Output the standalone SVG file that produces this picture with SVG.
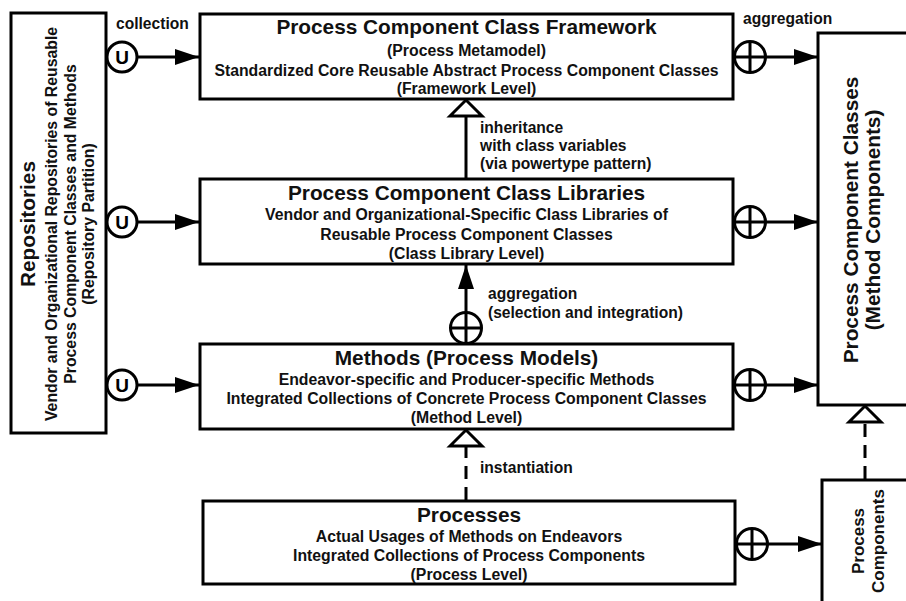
<svg xmlns="http://www.w3.org/2000/svg" width="906" height="601" viewBox="0 0 906 601">
  <style>
    .box { fill: #fff; stroke: #000; stroke-width: 3; }
    .t { font-family: "Liberation Sans", Arial, sans-serif; font-weight: bold; fill: #111; }
    .title { font-size: 20.8px; text-anchor: middle; }
    .sub { font-size: 15.8px; text-anchor: middle; }
    .lbl { font-size: 15.6px; }
    .edge { stroke: #000; stroke-width: 3; fill: none; }
    .dash { stroke-dasharray: 13 8; }
    .sym { fill: #fff; stroke: #000; stroke-width: 3; }
    .u { font-family: "Liberation Sans", Arial, sans-serif; font-weight: bold; font-size: 19px; text-anchor: middle; fill: #000; }
  </style>
  <defs>
    <marker id="arrow" markerUnits="userSpaceOnUse" markerWidth="26" markerHeight="18" refX="24" refY="8" orient="auto" overflow="visible">
      <path d="M0,0 L24,8 L0,16 Z" fill="#000"/>
    </marker>
    <marker id="hollow" markerUnits="userSpaceOnUse" markerWidth="40" markerHeight="40" refX="17" refY="17" orient="auto" overflow="visible">
      <path d="M1,1 L17,17 L1,33 Z" fill="#fff" stroke="#000" stroke-width="3" stroke-linejoin="miter"/>
    </marker>
  </defs>

  <!-- nodes -->
  <g id="repositories">
    <rect class="box" x="11" y="13" width="95" height="420"/>
    <g transform="translate(0,224) rotate(-90)">
      <text class="t title" x="0" y="35">Repositories</text>
      <text class="t sub" x="0" y="57">Vendor and Organizational Repositories of Reusable</text>
      <text class="t sub" x="0" y="76">Process Component Classes and Methods</text>
      <text class="t sub" x="0" y="94">(Repository Partition)</text>
    </g>
  </g>

  <g id="framework">
    <rect class="box" x="200" y="14" width="533" height="85"/>
    <text class="t title" x="466.5" y="34">Process Component Class Framework</text>
    <text class="t sub" x="466.5" y="56">(Process Metamodel)</text>
    <text class="t sub" x="466.5" y="75.5">Standardized Core Reusable Abstract Process Component Classes</text>
    <text class="t sub" x="466.5" y="94">(Framework Level)</text>
  </g>

  <g id="libraries">
    <rect class="box" x="200" y="179" width="533" height="85"/>
    <text class="t title" x="466.5" y="199.5">Process Component Class Libraries</text>
    <text class="t sub" x="466.5" y="220">Vendor and Organizational-Specific Class Libraries of</text>
    <text class="t sub" x="466.5" y="239.5">Reusable Process Component Classes</text>
    <text class="t sub" x="466.5" y="258.5">(Class Library Level)</text>
  </g>

  <g id="methods">
    <rect class="box" x="200" y="344" width="533" height="85"/>
    <text class="t title" x="466.5" y="365">Methods (Process Models)</text>
    <text class="t sub" x="466.5" y="384.5">Endeavor-specific and Producer-specific Methods</text>
    <text class="t sub" x="466.5" y="404">Integrated Collections of Concrete Process Component Classes</text>
    <text class="t sub" x="466.5" y="423">(Method Level)</text>
  </g>

  <g id="processes">
    <rect class="box" x="203" y="501" width="532" height="83"/>
    <text class="t title" x="469" y="521.5">Processes</text>
    <text class="t sub" x="469" y="542">Actual Usages of Methods on Endeavors</text>
    <text class="t sub" x="469" y="561">Integrated Collections of Process Components</text>
    <text class="t sub" x="469" y="580">(Process Level)</text>
  </g>

  <g id="component-classes">
    <rect class="box" x="818" y="33" width="110" height="372"/>
    <g transform="translate(0,220) rotate(-90)">
      <text class="t title" x="0" y="858">Process Component Classes</text>
      <text class="t title" x="0" y="880">(Method Components)</text>
    </g>
  </g>

  <g id="process-components">
    <rect class="box" x="822" y="480" width="110" height="140"/>
    <g transform="translate(0,541) rotate(-90)">
      <text class="t title" x="0" y="864" style="font-size:17px">Process</text>
      <text class="t title" x="0" y="884" style="font-size:17px">Components</text>
    </g>
  </g>

  <!-- connectors -->
  <g id="connectors">
    <!-- collection: repositories to each level -->
    <line class="edge" x1="137" y1="57" x2="199" y2="57" marker-end="url(#arrow)"/>
    <line class="edge" x1="137" y1="222" x2="199" y2="222" marker-end="url(#arrow)"/>
    <line class="edge" x1="137" y1="385" x2="199" y2="385" marker-end="url(#arrow)"/>
    <circle class="sym" cx="122" cy="57" r="15"/>
    <circle class="sym" cx="122" cy="222" r="15"/>
    <circle class="sym" cx="122" cy="385" r="15"/>
    <text class="u" x="122" y="64">U</text>
    <text class="u" x="122" y="229">U</text>
    <text class="u" x="122" y="392">U</text>
    <text class="t lbl" x="116" y="29">collection</text>

    <!-- aggregation into component classes -->
    <line class="edge" x1="765" y1="57" x2="818" y2="57" marker-end="url(#arrow)"/>
    <line class="edge" x1="765" y1="222" x2="818" y2="222" marker-end="url(#arrow)"/>
    <line class="edge" x1="765" y1="385" x2="818" y2="385" marker-end="url(#arrow)"/>
    <line class="edge" x1="768" y1="544" x2="822" y2="544" marker-end="url(#arrow)"/>
    <g id="plus-1"><circle class="sym" cx="750" cy="57" r="15.5"/><path class="edge" d="M734.5,57 H765.5 M750,41.5 V72.5"/></g>
    <g id="plus-2"><circle class="sym" cx="750" cy="222" r="15.5"/><path class="edge" d="M734.5,222 H765.5 M750,206.5 V237.5"/></g>
    <g id="plus-3"><circle class="sym" cx="750" cy="385" r="15.5"/><path class="edge" d="M734.5,385 H765.5 M750,369.5 V400.5"/></g>
    <g id="plus-4"><circle class="sym" cx="752" cy="544" r="15.5"/><path class="edge" d="M736.5,544 H767.5 M752,528.5 V559.5"/></g>
    <text class="t lbl" x="743" y="24">aggregation</text>

    <!-- inheritance: libraries to framework -->
    <line class="edge" x1="466" y1="178" x2="466" y2="100" marker-end="url(#hollow)"/>
    <text class="t lbl" x="480" y="133">inheritance</text>
    <text class="t lbl" x="480" y="151">with class variables</text>
    <text class="t lbl" x="480" y="169">(via powertype pattern)</text>

    <!-- aggregation: methods from libraries -->
    <line class="edge" x1="466" y1="343" x2="466" y2="265" marker-end="url(#arrow)"/>
    <g id="plus-5"><circle class="sym" cx="466" cy="328" r="15.5"/><path class="edge" d="M450.5,328 H481.5 M466,312.5 V343.5"/></g>
    <text class="t lbl" x="488" y="299">aggregation</text>
    <text class="t lbl" x="488" y="317.5">(selection and integration)</text>

    <!-- instantiation: processes from methods -->
    <line class="edge dash" x1="466" y1="500" x2="466" y2="430" marker-end="url(#hollow)"/>
    <text class="t lbl" x="480" y="473">instantiation</text>

    <!-- process components instantiate component classes -->
    <line class="edge dash" x1="865" y1="479" x2="865" y2="406" marker-end="url(#hollow)"/>
  </g>
</svg>
